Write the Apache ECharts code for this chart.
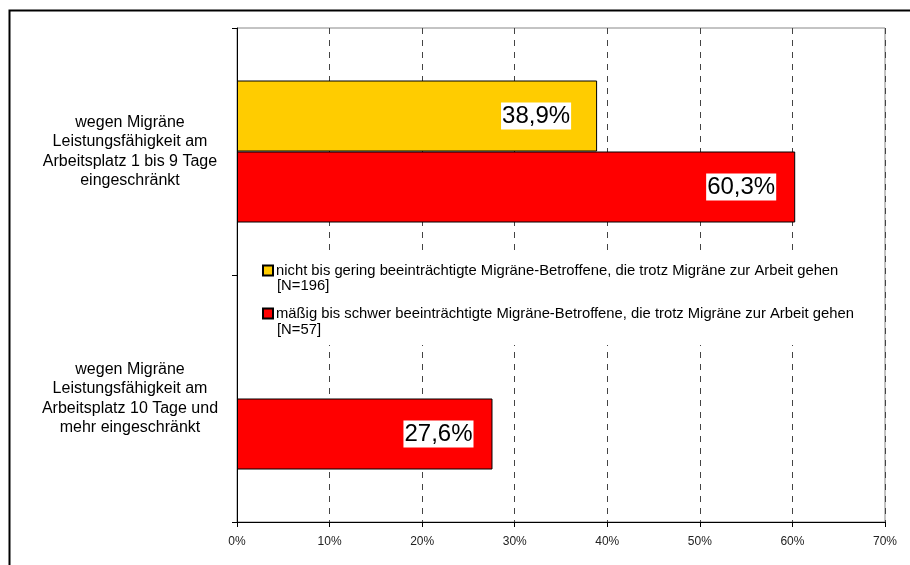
<!DOCTYPE html>
<html>
<head>
<meta charset="utf-8">
<script src="https://cdn.jsdelivr.net/npm/echarts@6/dist/echarts.min.js"></script>
<style>
  html, body { margin: 0; padding: 0; background: #fff; }
  #chart { width: 910px; height: 565px; }
</style>
</head>
<body>
<div id="chart"></div>
<script>
const categories = [
  'wegen Migräne\nLeistungsfähigkeit am\nArbeitsplatz 1 bis 9 Tage\neingeschränkt',
  'wegen Migräne\nLeistungsfähigkeit am\nArbeitsplatz 10 Tage und\nmehr eingeschränkt'
];
const seriesNames = [
  'nicht bis gering beeinträchtigte Migräne-Betroffene, die trotz Migräne zur Arbeit gehen',
  'mäßig bis schwer beeinträchtigte Migräne-Betroffene, die trotz Migräne zur Arbeit gehen'
];
const seriesN = ['[N=196]', '[N=57]'];
const seriesColors = ['#FFCC00', '#FF0000'];
const valuesLight = [38.9, null];
const valuesSevere = [60.3, 27.6];
const xTicks = { min: 0, max: 70, interval: 10 };

const FONT = '"Liberation Sans", Arial, sans-serif';
const fmt = p => p.value == null ? '' : p.value.toFixed(1).replace('.', ',') + '%';

const chart = echarts.init(document.getElementById('chart'), null, { renderer: 'canvas' });

function labelCfg(dist) {
  return {
    show: true, position: 'insideRight', distance: dist, formatter: fmt,
    fontFamily: FONT, fontSize: 24, color: '#000',
    backgroundColor: '#fff', padding: [2, 1, 1, 1]
  };
}

const option = {
  animation: false,
  backgroundColor: '#fff',
  grid: { left: 237, right: 25, top: 28, bottom: 43, show: true, borderColor: '#888', borderWidth: 1, containLabel: false },
  xAxis: {
    type: 'value', min: xTicks.min, max: xTicks.max, interval: xTicks.interval,
    axisLine: { show: true, lineStyle: { color: '#000', width: 1 } },
    axisTick: { show: true, length: 5, lineStyle: { color: '#000' } },
    axisLabel: { formatter: '{value}%', fontFamily: FONT, fontSize: 12, color: '#222', margin: 14 },
    splitLine: { show: true, lineStyle: { color: '#444', type: [6, 6], width: 1 } }
  },
  yAxis: {
    type: 'category', inverse: true, data: categories,
    axisLine: { show: true, lineStyle: { color: '#000', width: 1 } },
    axisTick: { show: true, length: 5, alignWithLabel: false, lineStyle: { color: '#000' } },
    axisLabel: { fontFamily: FONT, fontSize: 16, lineHeight: 19.5, color: '#000', align: 'center', margin: 107 },
    splitLine: { show: false }
  },
  legend: {
    orient: 'vertical', left: 257, top: 255,
    data: seriesNames,
    icon: 'rect', itemWidth: 10, itemHeight: 10, itemGap: 28,
    backgroundColor: '#fff', padding: [8, 12, 24, 5],
    textStyle: { fontFamily: FONT, fontSize: 14.8, color: '#000', padding: [0, 0, 0, -2] }
  },
  series: [
    {
      name: seriesNames[0], type: 'bar', data: valuesLight,
      barWidth: 71, barGap: '0%',
      itemStyle: { color: seriesColors[0], borderColor: '#000', borderWidth: 1 },
      label: labelCfg(26), z: 2
    },
    {
      name: seriesNames[1], type: 'bar', data: valuesSevere,
      barWidth: 71, barGap: '0%',
      itemStyle: { color: seriesColors[1], borderColor: '#000', borderWidth: 1 },
      label: labelCfg(19), z: 2
    }
  ],
  graphic: [
    { type: 'text', z: 100, left: 277, top: 278, style: { text: seriesN[0], font: '14.8px ' + FONT, fill: '#000' } },
    { type: 'text', z: 100, left: 277, top: 322, style: { text: seriesN[1], font: '14.8px ' + FONT, fill: '#000' } },
    { type: 'rect', z: 100, silent: true, shape: { x: 9.5, y: 10.5, width: 1000, height: 1000 }, style: { fill: 'none', stroke: '#000', lineWidth: 2 } }
  ]
};
chart.setOption(option);
</script>
</body>
</html>
